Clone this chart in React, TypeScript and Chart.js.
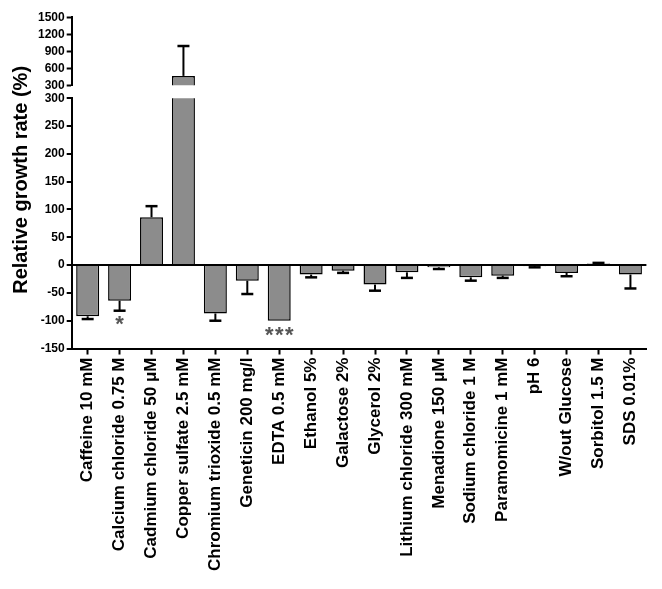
import React, { useEffect, useRef } from "react";
import { Chart, registerables } from "chart.js";

Chart.register(...registerables);

const categories = [
  "Caffeine 10 mM",
  "Calcium chloride 0.75 M",
  "Cadmium chloride 50 μM",
  "Copper sulfate 2.5 mM",
  "Chromium trioxide 0.5 mM",
  "Geneticin 200 mg/l",
  "EDTA 0.5 mM",
  "Ethanol 5%",
  "Galactose 2%",
  "Glycerol 2%",
  "Lithium chloride 300 mM",
  "Menadione 150 μM",
  "Sodium chloride 1 M",
  "Paramomicine 1 mM",
  "pH 6",
  "W/out Glucose",
  "Sorbitol 1.5 M",
  "SDS 0.01%",
];

const values = [-92, -64, 86, 465, -87, -28, -100, -17, -10, -35, -13, -4, -22, -19, -2, -14, 3, -17];
const errors = [5, 18, 20, 527, 13, 24, 0, 5, 4, 11, 10, 3, 6, 4, 2, 6, 1, 25];

const lowerMin = -150;
const lowerMax = 300;
const lowerStep = 50;
const upperMin = 300;
const upperMax = 1500;
const upperStep = 300;

const markIndex = [1, 6];
const markCount = [1, 3];
const markValue = [-96, -116];

const yTitle = "Relative growth rate (%)";

const FONT = '"Liberation Sans", Arial, Helvetica, sans-serif';

const errorBarPlugin = {
  id: "errorBars",
  afterDatasetsDraw(chart: any) {
    const ctx = chart.ctx;
    const xs = chart.scales.x;
    const yl = chart.scales.y;
    const yu = chart.scales.y2;
    ctx.save();
    ctx.strokeStyle = "#000";
    values.forEach((v, i) => {
      const e = errors[i];
      if (!e) return;
      const s = v > lowerMax ? yu : yl;
      const px = xs.getPixelForValue(i);
      const y0 = s.getPixelForValue(v);
      const y1 = s.getPixelForValue(v + Math.sign(v) * e);
      ctx.lineWidth = 2;
      ctx.beginPath();
      ctx.moveTo(px, y0);
      ctx.lineTo(px, y1);
      ctx.stroke();
      ctx.lineWidth = 2.5;
      ctx.beginPath();
      ctx.moveTo(px - 6, y1);
      ctx.lineTo(px + 6, y1);
      ctx.stroke();
    });
    // significance marks
    ctx.fillStyle = "#555";
    ctx.font = "bold 22px " + FONT;
    ctx.textAlign = "center";
    ctx.textBaseline = "alphabetic";
    markIndex.forEach((idx, k) => {
      const px = xs.getPixelForValue(idx);
      const py = yl.getPixelForValue(markValue[k]);
      const n = markCount[k];
      for (let j = 0; j < n; j++) {
        const ox = (j - (n - 1) / 2) * 10;
        ctx.fillText("*", px + ox, py + 12.5);
      }
    });
    ctx.restore();
  },
};

const titlePlugin = {
  id: "yTitle",
  afterDraw(chart: any) {
    const ctx = chart.ctx;
    const a = chart.chartArea;
    ctx.save();
    ctx.translate(13, (a.top + a.bottom) / 2 - 3);
    ctx.rotate(-Math.PI / 2);
    ctx.fillStyle = "#000";
    ctx.font = "bold 20px " + FONT;
    ctx.textAlign = "center";
    ctx.textBaseline = "middle";
    ctx.fillText(yTitle, 0, 0);
    ctx.restore();
  },
};

export default function App() {
  const ref = useRef<HTMLCanvasElement | null>(null);
  useEffect(() => {
    if (!ref.current) return;
    const tickFont = { family: FONT, size: 12, weight: "bold" as const };
    const chart = new Chart(ref.current, {
      type: "bar",
      data: {
        labels: categories,
        datasets: [
          {
            label: "lower",
            data: values,
            xAxisID: "x",
            yAxisID: "y",
            backgroundColor: "#8c8c8c",
            borderColor: "#000",
            borderWidth: 1.5,
            barPercentage: 0.72,
            categoryPercentage: 1,
            grouped: false,
            clip: 0,
          } as any,
          {
            label: "upper",
            data: values.map((v) => (v > lowerMax ? v : null)),
            xAxisID: "x",
            yAxisID: "y2",
            backgroundColor: "#8c8c8c",
            borderColor: "#000",
            borderWidth: 1.5,
            barPercentage: 0.72,
            categoryPercentage: 1,
            grouped: false,
            clip: 0,
          } as any,
        ],
      },
      options: {
        animation: false,
        responsive: true,
        maintainAspectRatio: false,
        layout: { padding: { left: 28, top: 9, right: 6, bottom: 7 } },
        plugins: { legend: { display: false }, tooltip: { enabled: false } },
        scales: {
          x: {
            type: "category",
            position: "bottom",
            offset: true,
            grid: {
              drawOnChartArea: false,
              offset: false,
              tickLength: 6,
              tickColor: "#000",
              tickWidth: 2,
            },
            border: { color: "#000", width: 2 },
            ticks: {
              font: { family: FONT, size: 17, weight: "bold" },
              color: "#000",
              minRotation: 90,
              maxRotation: 90,
              autoSkip: false,
              padding: 3,
            },
          },
          y: {
            type: "linear",
            position: "left",
            stack: "left",
            stackWeight: 250,
            weight: 1,
            min: lowerMin,
            max: lowerMax,
            ticks: {
              stepSize: lowerStep,
              font: tickFont,
              color: "#000",
              padding: 2,
              autoSkip: false,
              callback: (v: any) => String(v),
            },
            grid: {
              color: (c: any) => (c.tick && c.tick.value === 0 ? "#000" : "rgba(0,0,0,0)"),
              lineWidth: 2,
              tickColor: "#000",
              tickLength: 5,
              tickWidth: 2,
            },
            border: { color: "#000", width: 2 },
          },
          yGap: {
            type: "linear",
            position: "left",
            stack: "left",
            stackWeight: 13,
            weight: 2,
            min: 0,
            max: 1,
            display: false,
          },
          y2: {
            type: "linear",
            position: "left",
            stack: "left",
            stackWeight: 68,
            weight: 3,
            min: upperMin,
            max: upperMax,
            ticks: {
              stepSize: upperStep,
              font: tickFont,
              color: "#000",
              padding: 2,
              autoSkip: false,
              maxTicksLimit: 20,
              callback: (v: any) => String(v),
            },
            grid: {
              drawOnChartArea: false,
              tickColor: "#000",
              tickLength: 5,
              tickWidth: 2,
            },
            border: { color: "#000", width: 2 },
          },
        },
      } as any,
      plugins: [errorBarPlugin, titlePlugin],
    });
    return () => chart.destroy();
  }, []);
  return (
    <div style={{ position: "relative", width: 646, height: 573 }}>
      <canvas ref={ref} />
    </div>
  );
}
